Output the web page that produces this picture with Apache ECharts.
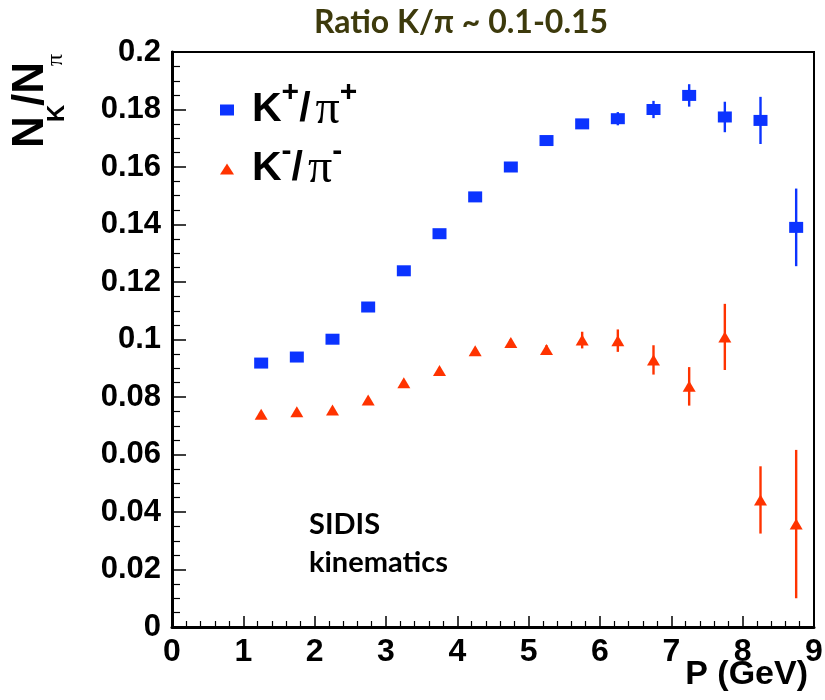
<!DOCTYPE html>
<html>
<head>
<meta charset="utf-8">
<script src="https://cdn.jsdelivr.net/npm/echarts@6/dist/echarts.min.js"></script>
<style>html,body{margin:0;padding:0;background:#fff;}#c{width:825px;height:700px;}</style>
</head>
<body>
<div id="c"></div>
<script>
// ---- data ----
var pValues = [1.25, 1.75, 2.25, 2.75, 3.25, 3.75, 4.25, 4.75, 5.25, 5.75, 6.25, 6.75, 7.25, 7.75, 8.25, 8.75];
var kPlusRatio = [0.0918, 0.0939, 0.1001, 0.1113, 0.1239, 0.1368, 0.1496, 0.1600, 0.1692, 0.1750, 0.1768, 0.1800, 0.1849, 0.1774, 0.1762, 0.1390];
var kPlusErr   = [0.0010, 0.0010, 0.0010, 0.0010, 0.0010, 0.0010, 0.0010, 0.0010, 0.0010, 0.0012, 0.0023, 0.0030, 0.0039, 0.0053, 0.0082, 0.0135];
var kMinusRatio = [0.0740, 0.0749, 0.0755, 0.0790, 0.0850, 0.0892, 0.0961, 0.0990, 0.0965, 0.0998, 0.0996, 0.0929, 0.0837, 0.1009, 0.0442, 0.0358];
var kMinusErr   = [0.0008, 0.0008, 0.0008, 0.0008, 0.0008, 0.0010, 0.0010, 0.0012, 0.0015, 0.0029, 0.0039, 0.0051, 0.0067, 0.0115, 0.0117, 0.0258];
var seriesNames = ['K+/pi+', 'K-/pi-'];
var xTicks = [0, 1, 2, 3, 4, 5, 6, 7, 8, 9];
var yTicks = [0, 0.02, 0.04, 0.06, 0.08, 0.1, 0.12, 0.14, 0.16, 0.18, 0.2];

var BLUE = '#0b33ff', RED = '#ff3300';

function pts(ys) { return pValues.map(function (x, i) { return [x, ys[i]]; }); }
function errPts(ys, es) { return pValues.map(function (x, i) { return [x, ys[i] - es[i], ys[i] + es[i]]; }); }

function errRender(color) {
  return function (params, api) {
    var lo = api.coord([api.value(0), api.value(1)]);
    var hi = api.coord([api.value(0), api.value(2)]);
    return {
      type: 'line',
      shape: { x1: lo[0], y1: lo[1], x2: hi[0], y2: hi[1] },
      style: { stroke: color, lineWidth: 2.4 }
    };
  };
}

var chart = echarts.init(document.getElementById('c'), null, { renderer: 'canvas' });
var labelFont = { fontFamily: 'Liberation Sans', fontWeight: 'bold', color: '#000' };

var legendRich = {
  k: { fontFamily: 'Liberation Sans', fontWeight: 'bold', fontSize: 41, color: '#000', lineHeight: 64 },
  s: { fontFamily: 'Liberation Sans', fontWeight: 'bold', fontSize: 30, color: '#000', verticalAlign: 'top' },
  g: { fontFamily: 'Liberation Serif', fontSize: 48, color: '#000', lineHeight: 64, padding: [0, 0, 0, 5] }
};

function ytitle(txt, x, y, font) {
  return {
    type: 'text', x: x, y: y, rotation: Math.PI / 2,
    style: { text: txt, font: font, fill: '#000', align: 'left', verticalAlign: 'middle' }
  };
}

chart.setOption({
  animation: false,
  backgroundColor: '#fff',
  grid: { left: 172, top: 52, right: 11, bottom: 73, containLabel: false, outerBoundsMode: 'none',
          show: true, borderColor: '#000', borderWidth: 2, backgroundColor: 'transparent' },
  xAxis: {
    type: 'value', min: xTicks[0], max: xTicks[xTicks.length - 1], interval: 1,
    axisLine: { onZero: false, lineStyle: { color: '#000', width: 3 } },
    axisTick: { inside: true, length: 11, lineStyle: { color: '#000', width: 1.5 } },
    minorTick: { show: true, splitNumber: 5, length: 6, lineStyle: { color: '#000', width: 1.2 } },
    axisLabel: Object.assign({ fontSize: 32, margin: 9 }, labelFont),
    splitLine: { show: false }
  },
  yAxis: {
    type: 'value', min: yTicks[0], max: yTicks[yTicks.length - 1], interval: 0.02,
    axisLine: { onZero: false, lineStyle: { color: '#000', width: 3 } },
    axisTick: { inside: true, length: 14, lineStyle: { color: '#000', width: 1.5 } },
    minorTick: { show: true, splitNumber: 4, length: 8, lineStyle: { color: '#000', width: 1.2 } },
    axisLabel: Object.assign({ fontSize: 31, margin: 11 }, labelFont),
    splitLine: { show: false }
  },
  legend: {
    orient: 'vertical', left: 215, top: 73, itemGap: 3, itemWidth: 14, itemHeight: 11,
    data: [
      { name: seriesNames[0], icon: 'rect' },
      { name: seriesNames[1], icon: 'triangle' }
    ],
    formatter: function (name) {
      if (name === seriesNames[0]) return '{k|K}{s|+}{k|/}{g|π}{s|+}';
      return '{k|K}{s|-}{k|/}{g|π}{s|-}';
    },
    textStyle: { rich: legendRich, padding: [0, 0, 0, 13] }
  },
  graphic: [
    {
      type: 'text', x: 461, y: 23,
      style: { text: 'Ratio K/π ~ 0.1-0.15', font: 'bold 32px Lato', fill: '#3d3a0c', align: 'center', verticalAlign: 'middle' }
    },
    ytitle('N', 31, 148, 'bold 44px "Liberation Sans"'),
    ytitle('K', 57, 122, 'bold 24px "Liberation Sans"'),
    ytitle('/N', 31, 106, 'bold 44px "Liberation Sans"'),
    ytitle('π', 56, 66, '24px "Liberation Serif"'),
    {
      type: 'text', x: 808, y: 675,
      style: { text: 'P (GeV)', font: 'bold 34px "Liberation Sans"', fill: '#000', align: 'right', verticalAlign: 'middle' }
    },
    {
      type: 'text', x: 309, y: 525,
      style: { text: 'SIDIS', font: 'bold 29px Lato', fill: '#000', align: 'left', verticalAlign: 'middle' }
    },
    {
      type: 'text', x: 309, y: 563,
      style: { text: 'kinematics', font: 'bold 29px Lato', fill: '#000', align: 'left', verticalAlign: 'middle' }
    }
  ],
  series: [
    {
      type: 'custom', name: 'errPlus', data: errPts(kPlusRatio, kPlusErr),
      renderItem: errRender(BLUE), z: 2, silent: true,
      encode: { x: 0, y: [1, 2] }
    },
    {
      type: 'custom', name: 'errMinus', data: errPts(kMinusRatio, kMinusErr),
      renderItem: errRender(RED), z: 2, silent: true,
      encode: { x: 0, y: [1, 2] }
    },
    {
      type: 'scatter', name: seriesNames[0], data: pts(kPlusRatio),
      symbol: 'rect', symbolSize: [14, 11], itemStyle: { color: BLUE, opacity: 1 }, z: 3
    },
    {
      type: 'scatter', name: seriesNames[1], data: pts(kMinusRatio),
      symbol: 'triangle', symbolSize: [13, 11], itemStyle: { color: RED, opacity: 1 }, z: 3
    }
  ]
});
</script>
</body>
</html>
